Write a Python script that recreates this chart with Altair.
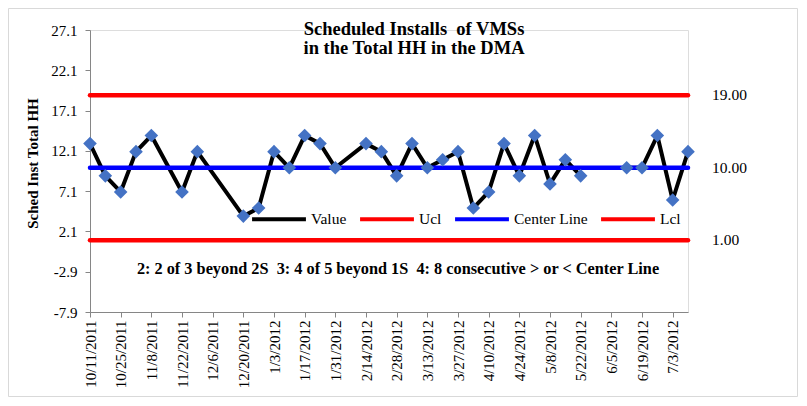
import altair as alt
import pandas as pd

dates = [
    "10/11/2011", "10/18/2011", "10/25/2011", "11/1/2011", "11/8/2011",
    "11/15/2011", "11/22/2011", "11/29/2011", "12/6/2011", "12/13/2011",
    "12/20/2011", "12/27/2011", "1/3/2012", "1/10/2012", "1/17/2012",
    "1/24/2012", "1/31/2012", "2/7/2012", "2/14/2012", "2/21/2012",
    "2/28/2012", "3/6/2012", "3/13/2012", "3/20/2012", "3/27/2012",
    "4/3/2012", "4/10/2012", "4/17/2012", "4/24/2012", "5/1/2012",
    "5/8/2012", "5/15/2012", "5/22/2012", "5/29/2012", "6/5/2012",
    "6/12/2012", "6/19/2012", "6/26/2012", "7/3/2012", "7/10/2012",
]
values = [
    13, 9, 7, 12, 14, None, 7, 12, None, None,
    4, 5, 12, 10, 14, 13, 10, None, 13, 12,
    9, 13, 10, 11, 12, 5, 7, 13, 9, 14,
    8, 11, 9, None, None, 10, 10, 14, 6, 12,
]
# line segment id (the line is broken across the late-May / early-June gap)
segment = [0] * 33 + [1] * 7

limit_names = ["Ucl", "Center Line", "Lcl"]
limit_values = [19.0, 10.0, 1.0]

series_names = ["Value", "Ucl", "Center Line", "Lcl"]
series_colors = ["#000000", "#FF0000", "#0000FF", "#FF0000"]

y_ticks = [-7.9, -2.9, 2.1, 7.1, 12.1, 17.1, 22.1, 27.1]

NB = "\u00a0"
title_lines = ["Scheduled Installs " + NB + "of VMSs", "in the Total HH in the DMA"]
y_title = "Sched Inst Total HH"
note = ("2: 2 of 3 beyond 2S " + NB + "3: 4 of 5 beyond 1S " + NB +
        "4: 8 consecutive > or < Center Line")

FONT = "Liberation Serif"
AXIS_GREY = "#868686"

df = pd.DataFrame({"date": dates, "value": values, "seg": segment,
                   "idx": list(range(len(dates)))})
df["series"] = "Value"
df = df.dropna(subset=["value"])

lim = pd.DataFrame({"series": limit_names, "value": limit_values})

x_enc = alt.X(
    "date:O",
    scale=alt.Scale(type="point", domain=dates, padding=0),
    axis=alt.Axis(values=dates[::2], labelAngle=-90, labelFontSize=15,
                  labelFont=FONT, labelColor="black", labelPadding=3,
                  tickSize=5, tickColor=AXIS_GREY, domainColor=AXIS_GREY,
                  labelOverlap=False, title=None, grid=False),
)
y_scale = alt.Scale(domain=[-7.9, 27.1], nice=False, zero=False)
y_enc = alt.Y(
    "value:Q", scale=y_scale,
    axis=alt.Axis(values=y_ticks, format=".1f",
                  labelExpr="replace(datum.label, '\u2212', '-')",
                  labelFontSize=15,
                  labelFont=FONT, labelColor="black", labelPadding=8,
                  tickSize=5, tickColor=AXIS_GREY, domainColor=AXIS_GREY,
                  labelOverlap=False, grid=False,
                  title=y_title, titleFont=FONT, titleFontSize=15,
                  titleFontWeight="bold", titleColor="black",
                  titleX=-58, titleY=133, titleAngle=-90,
                  titleAlign="center", titleBaseline="middle"),
)

color_enc = alt.Color(
    "series:N",
    scale=alt.Scale(domain=series_names, range=series_colors),
    legend=alt.Legend(orient="none", legendX=160, legendY=160,
                      direction="horizontal", title=None,
                      symbolType="stroke", symbolSize=2900,
                      symbolStrokeWidth=4, labelFontSize=15.5,
                      labelFont=FONT, labelColor="black",
                      columnPadding=5, labelOffset=3),
)

border = alt.Chart(pd.DataFrame({"a": [0]})).mark_rect(
    fill="transparent", stroke="#d9d9d9", strokeWidth=1
).encode(x=alt.value(-81.5), x2=alt.value(707.5), y=alt.value(-21.5), y2=alt.value(366.5))

line = alt.Chart(df).mark_line(strokeWidth=4, strokeJoin="round").encode(
    x=x_enc, y=y_enc, detail="seg:N", order="idx:Q", color=color_enc
)

rules = alt.Chart(lim).mark_rule(strokeWidth=4.5, strokeCap="round").encode(
    y=alt.Y("value:Q", scale=y_scale), color=color_enc
)

points = alt.Chart(df).mark_point(
    shape="diamond", filled=True, size=185, color="#4472C4", opacity=1
).encode(x=x_enc, y=alt.Y("value:Q", scale=y_scale))

limit_labels = alt.Chart(lim).mark_text(
    align="left", baseline="middle", fontSize=15.5, font=FONT, color="black"
).encode(x=alt.value(622), y=alt.Y("value:Q", scale=y_scale),
         text=alt.Text("value:Q", format=".2f"))

note_text = alt.Chart(pd.DataFrame({"t": [note]})).mark_text(
    fontSize=16.3, fontWeight="bold", font=FONT, color="black",
    align="center", baseline="middle"
).encode(x=alt.value(308), y=alt.value(239), text="t:N")

title_text = alt.Chart(pd.DataFrame({"a": [0]})).mark_text(
    text=title_lines, fontSize=18.5, fontWeight="bold", font=FONT, color="black",
    align="center", baseline="alphabetic", lineHeight=19
).encode(x=alt.value(324), y=alt.value(4.5))

chart = alt.layer(
    border, line, rules, points, limit_labels, note_text, title_text
).properties(
    width=598, height=282,
    autosize=alt.AutoSizeParams(type="none"),
    padding={"left": 82, "top": 22, "right": 110, "bottom": 85},
).configure_view(stroke=None).configure(font=FONT, background="white")

chart.save("out.html", embed_options={"renderer": "svg", "actions": False})
